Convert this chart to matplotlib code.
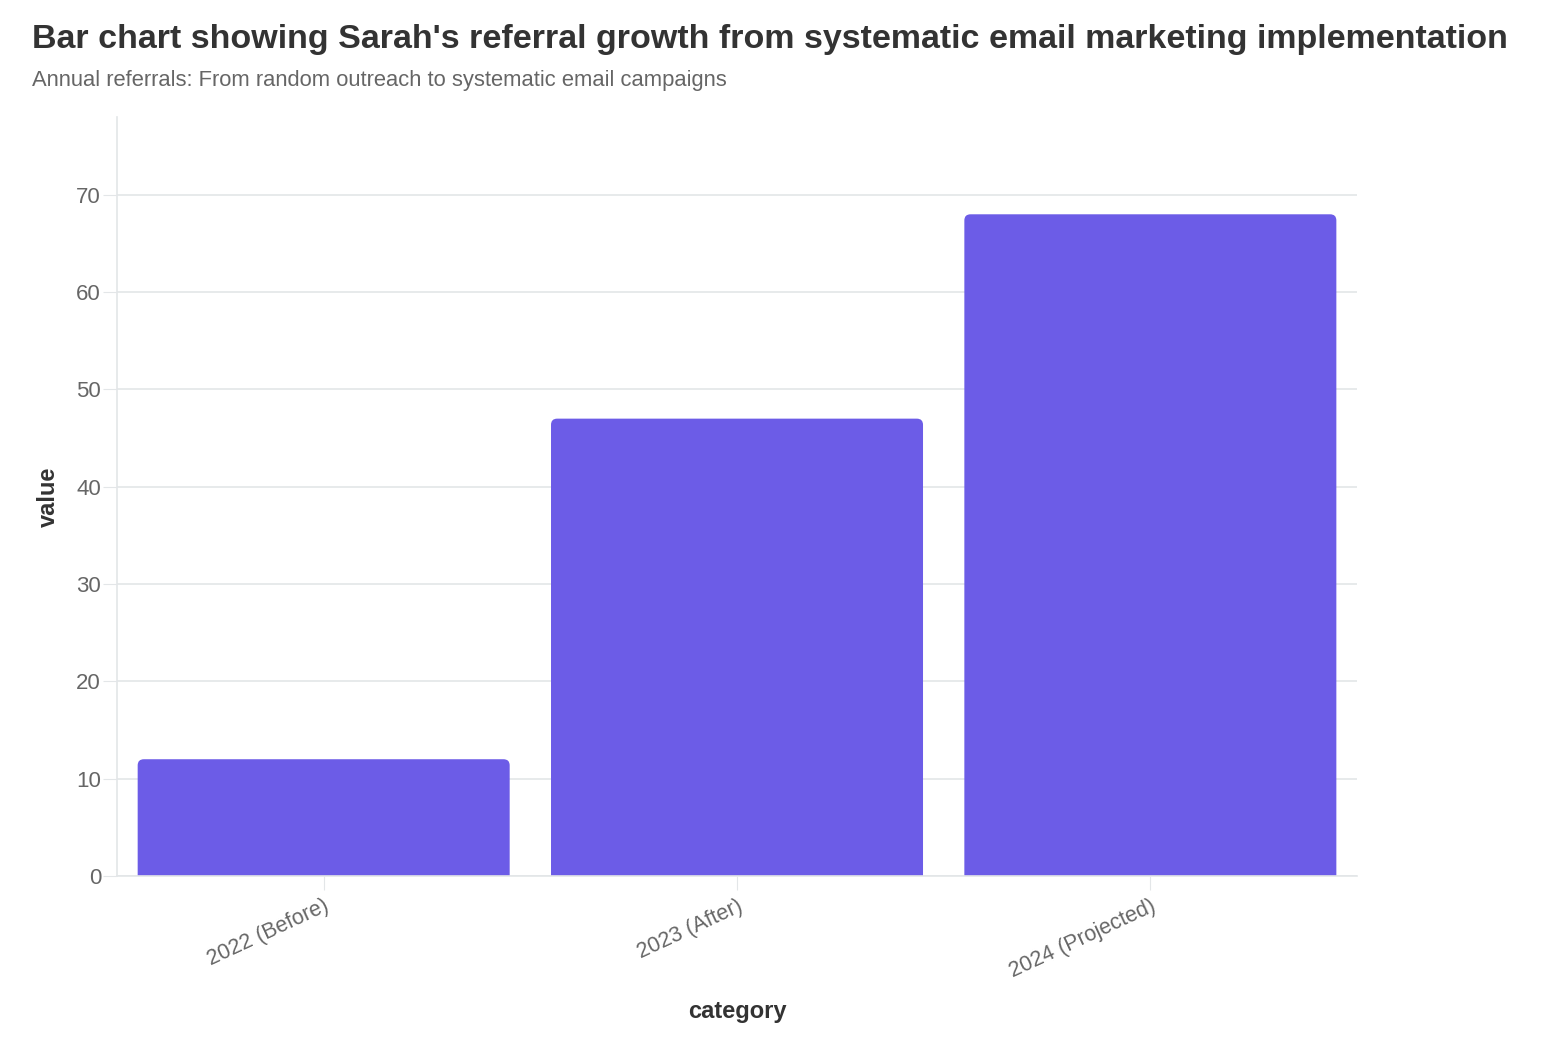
import matplotlib
matplotlib.use("Agg")
import matplotlib.pyplot as plt
from matplotlib.patches import FancyBboxPatch

categories = ["2022 (Before)", "2023 (After)", "2024 (Projected)"]
referrals = [12, 47, 68]
yticks = [0, 10, 20, 30, 40, 50, 60, 70]

BAR_COLOR = "#6c5ce7"
GRID_COLOR = "#e3e6e8"
TEXT_DARK = "#333333"
TEXT_GREY = "#666666"


def main():
    plt.rcParams['font.family'] = ['Liberation Sans', 'DejaVu Sans']
    fig = plt.figure(figsize=(15.58, 10.52), dpi=100)
    ax = fig.add_axes([0.0751, 0.1673, 0.7959, 0.7215])

    x = list(range(len(categories)))
    bars = ax.bar(x, referrals, width=0.9, color=BAR_COLOR)

    # swap the plain bars for ones with rounded tops
    for b in bars:
        bx, bw, bh = b.get_x(), b.get_width(), b.get_height()
        b.remove()
        patch = FancyBboxPatch((bx, -2), bw, bh + 2,
                               boxstyle="round,pad=0,rounding_size=0.015",
                               mutation_aspect=42,
                               facecolor=BAR_COLOR, edgecolor="none",
                               zorder=2)
        ax.add_patch(patch)

    ax.set_xlim(-0.5, len(categories) - 0.5)
    ax.set_ylim(0, 78)
    ax.set_yticks(yticks)
    ax.set_xticks(x)
    ax.set_xticklabels(categories, rotation=25, ha='right',
                       rotation_mode='anchor', fontsize=15.5, color=TEXT_GREY)
    ax.tick_params(axis='y', labelsize=16, labelcolor=TEXT_GREY,
                   length=10, color=GRID_COLOR, pad=1.5)
    ax.tick_params(axis='x', length=10, color=GRID_COLOR, pad=4)

    ax.grid(axis='y', color=GRID_COLOR, linewidth=1.2, zorder=0)
    ax.set_axisbelow(True)
    for side in ['top', 'right']:
        ax.spines[side].set_visible(False)
    for side in ['left', 'bottom']:
        ax.spines[side].set_color(GRID_COLOR)
        ax.spines[side].set_linewidth(1.2)

    ax.set_ylabel("value", fontsize=17, fontweight='bold', color=TEXT_DARK,
                  labelpad=12)
    ax.set_xlabel("category", fontsize=17, fontweight='bold', color=TEXT_DARK,
                  labelpad=13)

    fig.text(0.0205, 0.9629,
             "Bar chart showing Sarah's referral growth from systematic email marketing implementation",
             fontsize=24.5, fontweight='bold', color=TEXT_DARK, va='center', ha='left')
    fig.text(0.0205, 0.9236,
             "Annual referrals: From random outreach to systematic email campaigns",
             fontsize=15.8, color=TEXT_GREY, va='center', ha='left')

    plt.savefig('out.png', dpi=100)


if __name__ == '__main__':
    main()
